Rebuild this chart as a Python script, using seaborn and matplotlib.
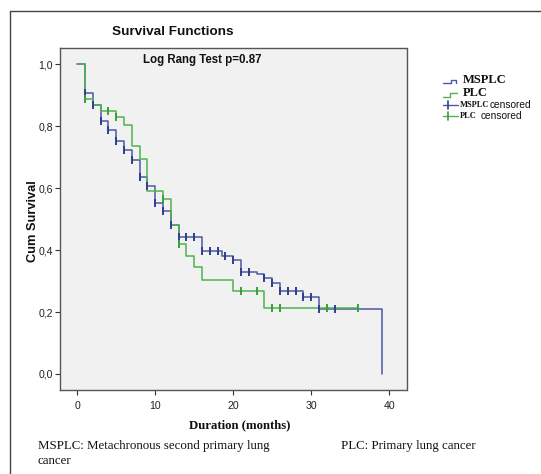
import numpy as np
import pandas as pd
import matplotlib
matplotlib.use("Agg")
import matplotlib.pyplot as plt
import seaborn as sns
from matplotlib.lines import Line2D

# ---------------- data ----------------
msplc_time = [0, 1, 2, 3, 4, 5, 6, 7, 8, 9, 10, 11, 12, 13, 16, 18.5, 20, 21, 23, 24, 25, 26, 29, 31, 39, 39]
msplc_surv = [1.0, 0.906, 0.869, 0.816, 0.786, 0.753, 0.723, 0.691, 0.637, 0.607, 0.552, 0.526, 0.481,
              0.443, 0.396, 0.382, 0.369, 0.330, 0.322, 0.309, 0.293, 0.269, 0.250, 0.209, 0.209, 0.0]
msplc_censored = [1, 2, 3, 4, 5, 6, 7, 8, 9, 10, 11, 12, 13, 14, 15, 16, 17, 18, 19, 20, 21, 22,
                  24, 25, 26, 27, 28, 29, 30, 31, 33]

plc_time = [0, 1, 2, 3, 5, 6, 7, 8, 9, 11, 12, 13, 14, 15, 16, 20, 24, 36]
plc_surv = [1.0, 0.888, 0.869, 0.850, 0.830, 0.804, 0.737, 0.694, 0.590, 0.565, 0.482, 0.418,
            0.381, 0.345, 0.304, 0.268, 0.212, 0.212]
plc_censored = [1, 4, 5, 11, 13, 21, 23, 25, 26, 32, 36]

x_ticks = [0, 10, 20, 30, 40]
y_ticks = [0.0, 0.2, 0.4, 0.6, 0.8, 1.0]
y_tick_labels = ["0,0", "0,2", "0,4", "0,6", "0,8", "1,0"]

# ---------------- style ----------------
sns.set_style("white")
plt.rcParams["font.family"] = ["Liberation Sans", "DejaVu Sans"]

BLUE = "#4a5ba3"
BLUE_D = "#2f3f8f"
GREEN = "#4fb34f"
GREEN_D = "#3a9e3a"

W, H = 541, 474
fig = plt.figure(figsize=(W / 100, H / 100), dpi=100)
fig.patch.set_facecolor("white")


def fx(x):
    return x / W


def fy(y):
    return 1 - y / H


L, R, T, B = 60, 406.5, 48.4, 390.4
ax = fig.add_axes([fx(L), fy(B), fx(R) - fx(L), fy(T) - fy(B)])
ax.set_facecolor("#f1f1f1")


def step_at(times, surv, tc):
    times = np.asarray(times, float)
    surv = np.asarray(surv, float)
    idx = np.searchsorted(times, np.asarray(tc, float), side="right") - 1
    return surv[idx]


df_m = pd.DataFrame({"t": msplc_time, "s": msplc_surv})
df_p = pd.DataFrame({"t": plc_time, "s": plc_surv})

sns.lineplot(data=df_m, x="t", y="s", drawstyle="steps-post", color=BLUE, lw=1.1,
             estimator=None, sort=False, ax=ax)
sns.lineplot(data=df_p, x="t", y="s", drawstyle="steps-post", color=GREEN, lw=1.1,
             estimator=None, sort=False, ax=ax)

cm = pd.DataFrame({"t": msplc_censored, "s": step_at(msplc_time[:-1], msplc_surv[:-1], msplc_censored)})
cp = pd.DataFrame({"t": plc_censored, "s": step_at(plc_time, plc_surv, plc_censored)})
sns.scatterplot(data=cm, x="t", y="s", marker="|", s=40, color=BLUE_D, linewidth=1.4, ax=ax, zorder=4)
sns.scatterplot(data=cp, x="t", y="s", marker="|", s=40, color=GREEN_D, linewidth=1.4, ax=ax, zorder=5)

ax.set_xlim(-2.2, 42.2)
ax.set_ylim(-0.053, 1.051)
ax.set_xticks(x_ticks)
ax.set_xticklabels([str(v) for v in x_ticks])
ax.set_yticks(y_ticks)
ax.set_yticklabels(y_tick_labels)
ax.set_xlabel("")
ax.set_ylabel("")
for sp in ax.spines.values():
    sp.set_visible(True)
    sp.set_color("#555555")
    sp.set_linewidth(1.0)
ax.tick_params(axis="both", direction="out", length=3.6, width=0.8, color="#333333",
               labelsize=7.6, labelcolor="#222222", bottom=True, left=True)
ax.tick_params(axis="x", pad=4)
ax.tick_params(axis="y", pad=1.5)

fig.text(fx(143), fy(60), "Log Rang Test p=0.87", ha="left", va="center",
         fontsize=8.3, fontweight="bold", color="#111111")

# titles / labels
fig.text(fx(112.5), fy(32), "Survival Functions", ha="left", va="center",
         fontsize=9.7, fontweight="bold", color="#111111")
fig.text(fx(33), fy(221), "Cum Survival", rotation=90, ha="center", va="center",
         fontsize=9.3, fontweight="bold", color="#111111")
fig.text(fx(239.6), fy(425), "Duration (months)", ha="center", va="center",
         fontsize=9.2, fontweight="bold", family="Liberation Serif", color="#111111")

fig.text(fx(38), fy(445.7), "MSPLC: Metachronous second primary lung", ha="left", va="center",
         fontsize=9.3, family="Liberation Serif", color="#111111")
fig.text(fx(38), fy(461), "cancer", ha="left", va="center",
         fontsize=9.3, family="Liberation Serif", color="#111111")
fig.text(fx(340.8), fy(445.7), "PLC: Primary lung cancer", ha="left", va="center",
         fontsize=9.3, family="Liberation Serif", color="#111111")

# outer frame
fig.add_artist(Line2D([fx(9.7), fx(9.7)], [fy(11.4), 0], transform=fig.transFigure,
                      color="#444444", lw=1.0))
fig.add_artist(Line2D([fx(9.7), 1], [fy(11.4), fy(11.4)], transform=fig.transFigure,
                      color="#444444", lw=1.0))


# legend (manual)
def fline(xs, ys, color, lw=1.0):
    fig.add_artist(Line2D([fx(v) for v in xs], [fy(v) for v in ys], transform=fig.transFigure,
                          color=color, lw=lw))


fline([443, 451, 451, 456, 456], [83, 83, 79.5, 79.5, 83], BLUE)
fline([443, 450, 450, 457], [96.5, 96.5, 92.5, 92.5], GREEN)
fline([443, 458], [105, 105], BLUE)
fline([447.5, 447.5], [101, 109], BLUE_D, 1.2)
fline([443, 458], [116, 116], GREEN)
fline([447.5, 447.5], [112, 120], GREEN_D, 1.2)

fig.text(fx(463), fy(80), "MSPLC", ha="left", va="center", fontsize=9, fontweight="bold",
         family="Liberation Serif", color="#111111")
fig.text(fx(463), fy(93), "PLC", ha="left", va="center", fontsize=9, fontweight="bold",
         family="Liberation Serif", color="#111111")
fig.text(fx(460), fy(105), "MSPLC", ha="left", va="center", fontsize=6, fontweight="bold",
         family="Liberation Serif", color="#111111")
fig.text(fx(489.3), fy(105), "censored", ha="left", va="center", fontsize=7.3, color="#111111")
fig.text(fx(460), fy(116), "PLC", ha="left", va="center", fontsize=6, fontweight="bold",
         family="Liberation Serif", color="#111111")
fig.text(fx(480.7), fy(116), "censored", ha="left", va="center", fontsize=7.3, color="#111111")

fig.savefig("out.png", dpi=100)
